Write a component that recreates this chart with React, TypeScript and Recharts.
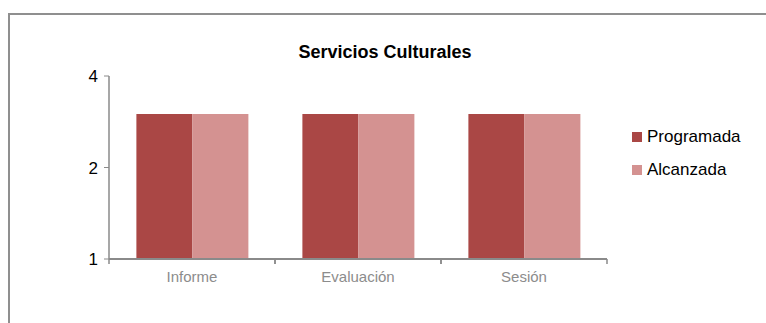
import { Bar, BarChart, Legend, XAxis, YAxis } from "recharts";

const categories = ["Informe", "Evaluación", "Sesión"];
const programada = [3, 3, 3];
const alcanzada = [3, 3, 3];
const yTicks = [1, 2, 4];
const seriesNames = ["Programada", "Alcanzada"];
const seriesColors = ["#aa4745", "#d49291"];

const data = categories.map((name, i) => ({
  name,
  Programada: programada[i],
  Alcanzada: alcanzada[i]
}));

const font = "'Liberation Sans', Arial, sans-serif";

function CategoryTick(props: any) {
  const { x, y, payload } = props;
  const half = payload?.offset ?? 83;
  return (
    <g>
      <line x1={x - half} x2={x - half} y1={y - 8} y2={y - 3} stroke="#8a8a8a" strokeWidth={1.5} />
      <line x1={x + half} x2={x + half} y1={y - 8} y2={y - 3} stroke="#8a8a8a" strokeWidth={1.5} />
      <text x={x} y={y + 15} textAnchor="middle" fill="#8c8c8c" fontSize={15} fontFamily={font}>
        {payload.value}
      </text>
    </g>
  );
}

function SeriesLegend() {
  return (
    <div style={{ fontFamily: font, fontSize: 17, color: "#000" }}>
      {seriesNames.map((name, i) => (
        <div key={name} style={{ display: "flex", alignItems: "center", height: 33 }}>
          <span style={{ width: 10, height: 10, background: seriesColors[i], marginRight: 5 }} />
          {name}
        </div>
      ))}
    </div>
  );
}

export default function App() {
  return (
    <div style={{ position: "absolute", left: 0, top: 0, width: 766, height: 323, background: "#fff" }}>
      <div
        style={{
          position: "absolute",
          left: 8,
          top: 13,
          width: 800,
          height: 400,
          border: "2px solid #8f8f8f",
          boxSizing: "border-box"
        }}
      />
      <div
        style={{
          position: "absolute",
          left: 0,
          width: 766,
          top: 42,
          textAlign: "center",
          fontFamily: font,
          fontWeight: "bold",
          fontSize: 18,
          color: "#000",
          paddingLeft: 2
        }}
      >
        Servicios Culturales
      </div>
      <BarChart
        width={766}
        height={323}
        data={data}
        margin={{ top: 76, right: 159, bottom: 34, left: 69 }}
        barCategoryGap="16.5%"
        barGap={0}
        style={{ position: "absolute", left: 0, top: 0 }}
      >
        <XAxis
          dataKey="name"
          axisLine={{ stroke: "#8a8a8a", strokeWidth: 2 }}
          tickLine={false}
          tick={<CategoryTick />}
          interval={0}
          height={30}
        />
        <YAxis
          scale="log"
          domain={[1, 4]}
          ticks={yTicks}
          allowDataOverflow
          width={40}
          axisLine={{ stroke: "#8a8a8a", strokeWidth: 1.5 }}
          tickLine={{ stroke: "#8a8a8a" }}
          tickSize={5}
          tickMargin={6}
          tick={{ fill: "#000", fontSize: 17, fontFamily: font }}
        />
        <Legend
          layout="vertical"
          align="center"
          verticalAlign="middle"
          content={<SeriesLegend />}
          wrapperStyle={{ position: "absolute", left: 632, top: 120, width: 130 }}
        />
        <Bar dataKey="Programada" fill={seriesColors[0]} isAnimationActive={false} />
        <Bar dataKey="Alcanzada" fill={seriesColors[1]} isAnimationActive={false} />
      </BarChart>
    </div>
  );
}
